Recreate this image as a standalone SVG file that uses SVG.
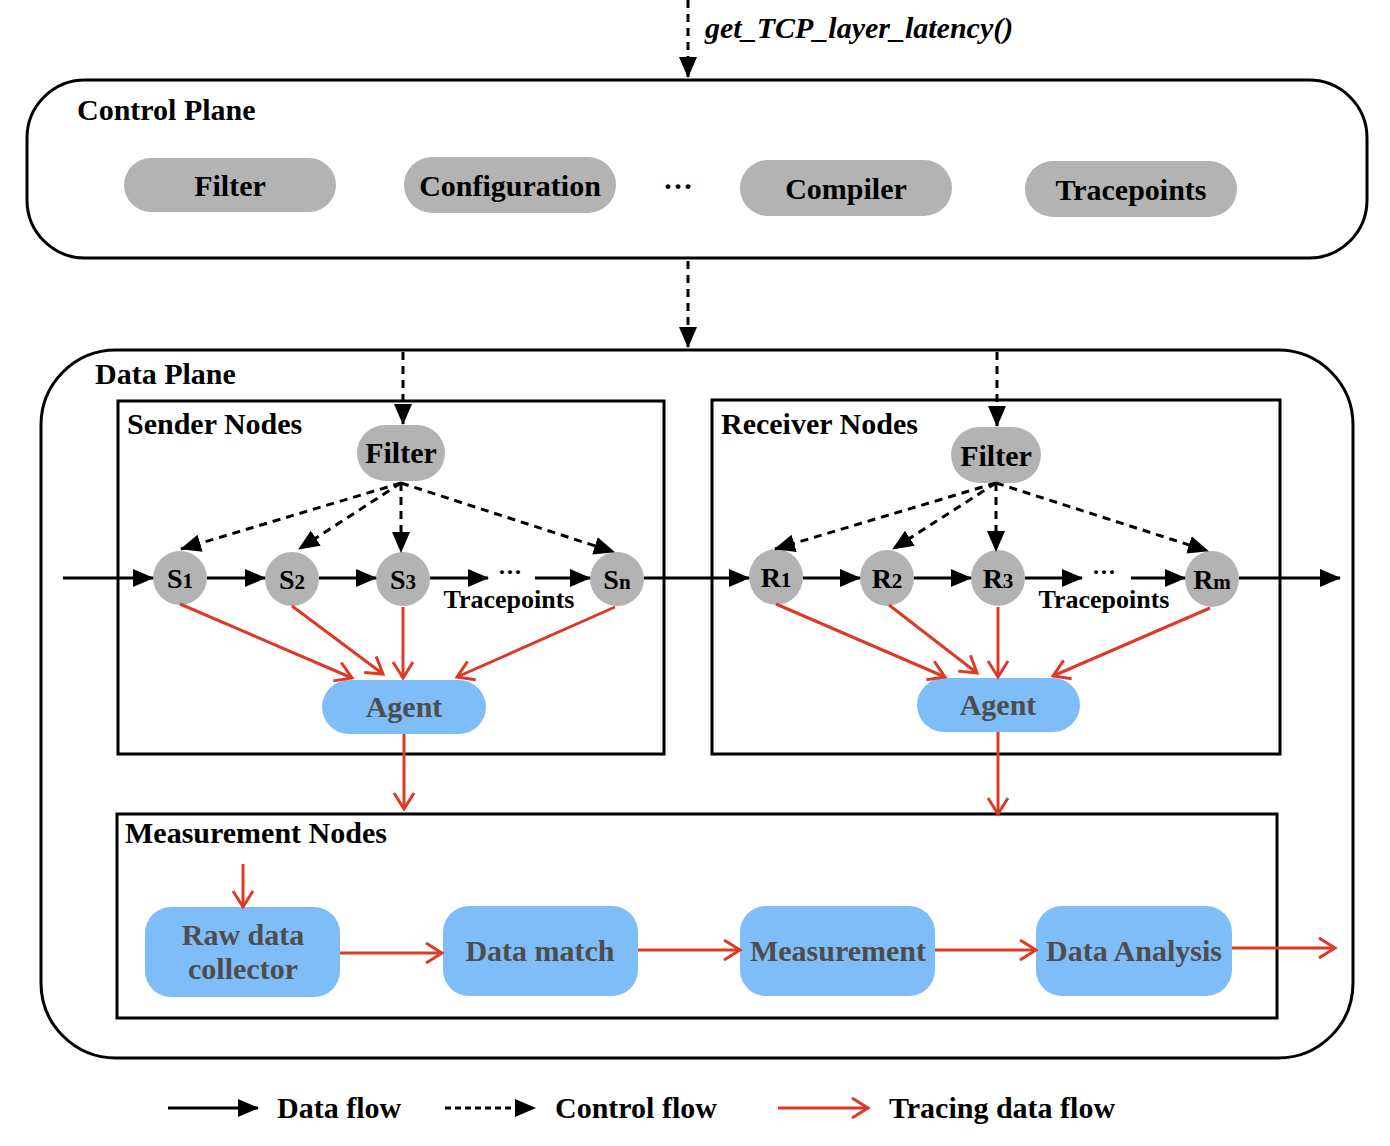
<svg xmlns="http://www.w3.org/2000/svg" width="1390" height="1146" viewBox="0 0 1390 1146">
<defs>
<style>
text{font-family:"Liberation Serif","Times New Roman",serif;font-weight:bold;fill:#000}
.t{font-size:30px}
.c{text-anchor:middle}
.g{fill:#b3b3b3}
.b{fill:#7fbdf9}
.bt{fill:#4d4d4d}
.box{fill:none;stroke:#000;stroke-width:3}
.blk{stroke:#000;stroke-width:3;fill:none}
.dsh{stroke:#000;stroke-width:3;fill:none;stroke-dasharray:8 6}
.red{stroke:#dd3a26;stroke-width:3;fill:none}
</style>
<marker id="ab" markerUnits="userSpaceOnUse" markerWidth="22" markerHeight="20" refX="20" refY="10" orient="auto">
<path d="M0,1 L21,10 L0,19 Z" fill="#000"/>
</marker>
<marker id="ar" markerUnits="userSpaceOnUse" markerWidth="22" markerHeight="24" refX="19" refY="12" orient="auto">
<path d="M3,2 L19,12 L3,22" fill="none" stroke="#dd3a26" stroke-width="3"/>
</marker>
</defs>

<g id="control-plane">
<rect x="27" y="80" width="1340" height="178" rx="58" class="box"/>
<text x="77" y="120" class="t">Control Plane</text>
</g>
<g id="cp-filter"><rect x="124" y="158" width="212" height="54" rx="27" class="g"/><text x="230" y="196" class="t c">Filter</text></g>
<g id="cp-configuration"><rect x="404" y="157" width="212" height="56" rx="28" class="g"/><text x="510" y="196" class="t c">Configuration</text></g>
<text x="678" y="196" class="t c">···</text>
<g id="cp-compiler"><rect x="740" y="160" width="212" height="56" rx="28" class="g"/><text x="846" y="199" class="t c">Compiler</text></g>
<g id="cp-tracepoints"><rect x="1025" y="161" width="212" height="56" rx="28" class="g"/><text x="1131" y="200" class="t c">Tracepoints</text></g>

<g id="data-plane">
<rect x="41" y="350" width="1312" height="708" rx="75" class="box"/>
<text x="95" y="384" class="t">Data Plane</text>
</g>
<g id="sender-nodes">
<rect x="118" y="401" width="546" height="353" class="box"/>
<text x="127" y="434" class="t">Sender Nodes</text>
</g>
<g id="receiver-nodes">
<rect x="712" y="400" width="568" height="354" class="box"/>
<text x="721" y="434" class="t">Receiver Nodes</text>
</g>
<g id="measurement-nodes">
<rect x="117" y="814" width="1160" height="204" class="box"/>
<text x="125" y="843" class="t">Measurement Nodes</text>
</g>

<g id="s-filter"><rect x="357" y="425" width="88" height="56" rx="28" class="g"/><text x="401" y="463" class="t c">Filter</text></g>
<g id="r-filter"><rect x="951" y="427" width="90" height="56" rx="28" class="g"/><text x="996" y="466" class="t c">Filter</text></g>

<g id="s1"><circle cx="180" cy="578" r="27" class="g"/><text x="180" y="588" class="c" font-size="28">S<tspan font-size="21">1</tspan></text></g>
<g id="s2"><circle cx="292" cy="579" r="27" class="g"/><text x="292" y="589" class="c" font-size="28">S<tspan font-size="21">2</tspan></text></g>
<g id="s3"><circle cx="403" cy="579" r="27" class="g"/><text x="403" y="589" class="c" font-size="28">S<tspan font-size="21">3</tspan></text></g>
<g id="sn"><circle cx="617" cy="579" r="27" class="g"/><text x="617" y="589" class="c" font-size="28">S<tspan font-size="21">n</tspan></text></g>

<g id="r1"><ellipse cx="776" cy="577" rx="27" ry="28" class="g"/><text x="776" y="587" class="c" font-size="28">R<tspan font-size="21">1</tspan></text></g>
<g id="r2"><ellipse cx="887" cy="578" rx="27" ry="28" class="g"/><text x="887" y="588" class="c" font-size="28">R<tspan font-size="21">2</tspan></text></g>
<g id="r3"><ellipse cx="998" cy="578" rx="27" ry="28" class="g"/><text x="998" y="588" class="c" font-size="28">R<tspan font-size="21">3</tspan></text></g>
<g id="rm"><ellipse cx="1212" cy="579" rx="27" ry="28" class="g"/><text x="1212" y="589" class="c" font-size="28">R<tspan font-size="21">m</tspan></text></g>

<text x="509" y="608" class="c" font-size="26">Tracepoints</text>
<text x="1104" y="608" class="c" font-size="26">Tracepoints</text>
<text x="510" y="580" class="c" font-size="24">···</text>
<text x="1104" y="580" class="c" font-size="24">···</text>

<g id="s-agent"><rect x="322" y="680" width="164" height="54" rx="27" class="b"/><text x="404" y="717" class="t c bt">Agent</text></g>
<g id="r-agent"><rect x="917" y="678" width="163" height="54" rx="27" class="b"/><text x="998" y="715" class="t c bt">Agent</text></g>

<g id="raw-data-collector"><rect x="145" y="907" width="195" height="90" rx="26" class="b"/><text x="243" y="945" class="t c bt">Raw data</text><text x="243" y="979" class="t c bt">collector</text></g>
<g id="data-match"><rect x="443" y="906" width="195" height="90" rx="26" class="b"/><text x="540" y="961" class="t c bt">Data match</text></g>
<g id="measurement"><rect x="740" y="906" width="195" height="90" rx="26" class="b"/><text x="838" y="961" class="t c bt">Measurement</text></g>
<g id="data-analysis"><rect x="1036" y="906" width="196" height="90" rx="26" class="b"/><text x="1134" y="961" class="t c bt">Data Analysis</text></g>

<g id="connectors">
<path d="M688,0 V77" class="dsh" marker-end="url(#ab)"/>
<text x="705" y="38" font-size="30" font-style="italic">get_TCP_layer_latency()</text>
<path d="M688,261 V347" class="dsh" marker-end="url(#ab)"/>
<path d="M403,352 V424" class="dsh" marker-end="url(#ab)"/>
<path d="M997,352 V426" class="dsh" marker-end="url(#ab)"/>

<path d="M401,483 L181,549" class="dsh" marker-end="url(#ab)"/>
<path d="M401,483 L299,549" class="dsh" marker-end="url(#ab)"/>
<path d="M401,483 V552" class="dsh" marker-end="url(#ab)"/>
<path d="M401,483 L614,552" class="dsh" marker-end="url(#ab)"/>
<path d="M996,483 L775,549" class="dsh" marker-end="url(#ab)"/>
<path d="M996,483 L893,549" class="dsh" marker-end="url(#ab)"/>
<path d="M996,483 V551" class="dsh" marker-end="url(#ab)"/>
<path d="M996,483 L1208,551" class="dsh" marker-end="url(#ab)"/>

<path d="M63,578 H153" class="blk" marker-end="url(#ab)"/>
<path d="M207,578 H265" class="blk" marker-end="url(#ab)"/>
<path d="M319,578 H376" class="blk" marker-end="url(#ab)"/>
<path d="M430,578 H488" class="blk" marker-end="url(#ab)"/>
<path d="M535,578 H590" class="blk" marker-end="url(#ab)"/>
<path d="M644,578 H749" class="blk" marker-end="url(#ab)"/>
<path d="M803,578 H860" class="blk" marker-end="url(#ab)"/>
<path d="M914,578 H971" class="blk" marker-end="url(#ab)"/>
<path d="M1025,578 H1082" class="blk" marker-end="url(#ab)"/>
<path d="M1131,578 H1185" class="blk" marker-end="url(#ab)"/>
<path d="M1239,578 H1340" class="blk" marker-end="url(#ab)"/>

<path d="M180,604 L352,678" class="red" marker-end="url(#ar)"/>
<path d="M292,606 L383,674" class="red" marker-end="url(#ar)"/>
<path d="M403,607 V678" class="red" marker-end="url(#ar)"/>
<path d="M615,607 L457,677" class="red" marker-end="url(#ar)"/>
<path d="M776,604 L945,677" class="red" marker-end="url(#ar)"/>
<path d="M889,605 L977,673" class="red" marker-end="url(#ar)"/>
<path d="M998,607 V677" class="red" marker-end="url(#ar)"/>
<path d="M1210,608 L1053,676" class="red" marker-end="url(#ar)"/>

<path d="M404,734 V809" class="red" marker-end="url(#ar)"/>
<path d="M998,732 V814" class="red" marker-end="url(#ar)"/>
<path d="M243,864 V907" class="red" marker-end="url(#ar)"/>
<path d="M340,953 H442" class="red" marker-end="url(#ar)"/>
<path d="M638,950 H740" class="red" marker-end="url(#ar)"/>
<path d="M935,950 H1036" class="red" marker-end="url(#ar)"/>
<path d="M1232,948 H1335" class="red" marker-end="url(#ar)"/>
</g>

<g id="legend">
<path d="M168,1108 H258" class="blk" marker-end="url(#ab)"/>
<text x="277" y="1118" class="t">Data flow</text>
<path d="M445,1108 H535" class="blk" stroke-dasharray="6 4" marker-end="url(#ab)"/>
<text x="555" y="1118" class="t">Control flow</text>
<path d="M778,1108 H868" class="red" marker-end="url(#ar)"/>
<text x="889" y="1118" class="t">Tracing data flow</text>
</g>
</svg>
